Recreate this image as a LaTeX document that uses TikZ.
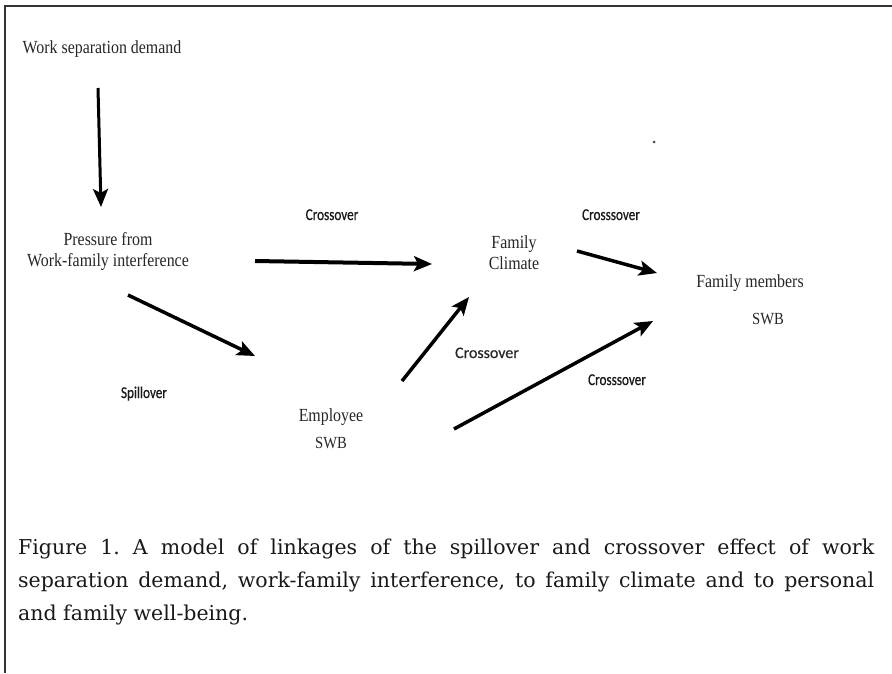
\documentclass[tikz,border=0pt]{standalone}
\usepackage{fontspec}
\setmainfont{Liberation Serif}
\newfontfamily\nodeserif[FakeStretch=0.86]{Liberation Serif}
\newfontfamily\labelsans[FakeStretch=0.8,FakeBold=0.6]{Carlito}
\newfontfamily\labelsanswide[FakeBold=0.3]{Carlito}
\newfontfamily\capserif{DejaVu Serif}
\usetikzlibrary{arrows.meta}
\frenchspacing
\begin{document}
\begin{tikzpicture}[x=1pt,y=-1pt,
  box/.style={font=\nodeserif\fontsize{18.5}{21}\selectfont, text=black!85, inner sep=0pt, align=center},
  lab/.style={font=\labelsans\fontsize{16.5}{20}\selectfont, text=black!90, inner sep=0pt},
  labwide/.style={font=\labelsanswide\fontsize{16}{20}\selectfont, text=black!85, inner sep=0pt},
  arr/.style={-{Stealth[length=18pt,width=15pt,inset=4pt]}, line width=3.5pt, black},
  framestyle/.style={line width=2pt, black!80},
  capstyle/.style={font=\capserif\fontsize{20.5}{33}\selectfont, text=black!90, inner sep=0pt, align=left}]
\fill[white] (0,0) rectangle (892,673);
\useasboundingbox (0,0) rectangle (892,673);
\draw[framestyle] (5,673) -- (5,6) -- (892,6);

% nodes (anchor base = baseline of the last line)
\node[box, anchor=base] (wsd) at (102,53) {Work separation demand};
\node[box, anchor=base] (pfw) at (108,266) {Pressure from\\Work-family interference};
\node[box, anchor=base] (fc) at (514,269) {Family\\Climate};
\node[box, anchor=base] (fm) at (750,287) {Family members};
\node[box, anchor=base, font=\nodeserif\fontsize{17}{21}\selectfont] (fmswb) at (768,324) {SWB};
\node[box, anchor=base, font=\nodeserif\fontsize{18.5}{27}\selectfont] (emp) at (331,448) {Employee\\{\fontsize{17}{27}\selectfont SWB}};

% labels
\node[lab, anchor=base] (cr1) at (332,220) {Crossover};
\node[lab, anchor=base] (cr2) at (611,220) {Crosssover};
\node[labwide, anchor=base] (cr3) at (487,358) {Crossover};
\node[lab, anchor=base] (cr4) at (617,385) {Crosssover};
\node[lab, anchor=base] (spill) at (144,398) {Spillover};

% dot
\node[circle, fill=black!70, inner sep=0pt, minimum size=3pt] (dot) at (654,142) {};

% arrow end points
\coordinate (a1s) at (98,88);   \coordinate (a1e) at (101,207);
\coordinate (a2s) at (255,261); \coordinate (a2e) at (432,264);
\coordinate (a3s) at (128,295); \coordinate (a3e) at (255,356);
\coordinate (a4s) at (402,381); \coordinate (a4e) at (469,297);
\coordinate (a5s) at (577,251); \coordinate (a5e) at (657,273);
\coordinate (a6s) at (454,429); \coordinate (a6e) at (653,321);

\draw[arr, line width=3pt] (a1s) -- (a1e);
\draw[arr, line width=4pt] (a2s) -- (a2e);
\draw[arr] (a3s) -- (a3e);
\draw[arr] (a4s) -- (a4e);
\draw[arr] (a5s) -- (a5e);
\draw[arr] (a6s) -- (a6e);

% caption
\node[capstyle, anchor=base west] (cap) at (18,620) {\makebox[856pt][s]{Figure 1. A model of linkages of the spillover and crossover effect of work}\\
\makebox[856pt][s]{separation demand, work-family interference, to family climate and to personal}\\
and family well-being.};
\end{tikzpicture}
\end{document}
